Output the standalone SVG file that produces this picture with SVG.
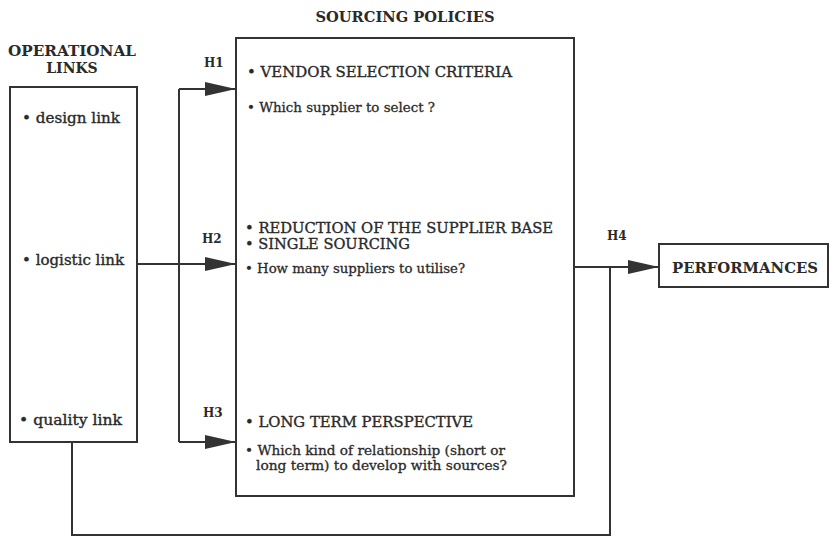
<svg xmlns="http://www.w3.org/2000/svg" width="834" height="538" viewBox="0 0 834 538">
<style>
.box{fill:#fff;stroke:#333;stroke-width:2}
.ln{fill:none;stroke:#333;stroke-width:2}
.hd{font-family:"DejaVu Serif","Liberation Serif",serif;font-weight:bold;font-size:14px;fill:#2a2a2a}
.tx{font-family:"DejaVu Serif","Liberation Serif",serif;font-size:14px;fill:#2a2a2a;stroke:#2a2a2a;stroke-width:0.35}
.sm{font-family:"DejaVu Serif","Liberation Serif",serif;font-size:13px;fill:#2a2a2a;stroke:#2a2a2a;stroke-width:0.3}
.hl{font-family:"DejaVu Serif","Liberation Serif",serif;font-weight:bold;font-size:12px;fill:#2a2a2a}
</style>
<defs>
<marker id="arr" markerUnits="userSpaceOnUse" markerWidth="31" markerHeight="14" refX="31" refY="7" orient="auto">
<path d="M0,0 L31,7 L0,14 z" fill="#333"/>
</marker>
</defs>
<rect width="834" height="538" fill="#fff"/>
<g id="operational-links">
<text class="hd" x="72" y="56" text-anchor="middle" textLength="128" lengthAdjust="spacingAndGlyphs">OPERATIONAL</text>
<text class="hd" x="72" y="73" text-anchor="middle">LINKS</text>
<rect class="box" x="10" y="87" width="127" height="355"/>
<text class="tx" x="22" y="123" textLength="98" lengthAdjust="spacingAndGlyphs">• design link</text>
<text class="tx" x="22" y="265" textLength="102" lengthAdjust="spacingAndGlyphs">• logistic link</text>
<text class="tx" x="19" y="425" textLength="103" lengthAdjust="spacingAndGlyphs">• quality link</text>
</g>
<g id="sourcing-policies">
<text class="hd" x="405" y="22" text-anchor="middle" textLength="179" lengthAdjust="spacingAndGlyphs">SOURCING POLICIES</text>
<rect class="box" x="236" y="38" width="338" height="458"/>
<text class="tx" x="247" y="77" textLength="265" lengthAdjust="spacingAndGlyphs">• VENDOR SELECTION CRITERIA</text>
<text class="sm" x="247" y="112" textLength="188" lengthAdjust="spacingAndGlyphs">• Which supplier to select ?</text>
<text class="tx" x="245" y="233" font-size="13" textLength="308" lengthAdjust="spacingAndGlyphs">• REDUCTION OF THE SUPPLIER BASE</text>
<text class="tx" x="245" y="249" font-size="13" textLength="165" lengthAdjust="spacingAndGlyphs">• SINGLE SOURCING</text>
<text class="sm" x="245" y="273" textLength="220" lengthAdjust="spacingAndGlyphs">• How many suppliers to utilise?</text>
<text class="tx" x="245" y="427" textLength="228" lengthAdjust="spacingAndGlyphs">• LONG TERM PERSPECTIVE</text>
<text class="sm" x="245" y="455" textLength="260" lengthAdjust="spacingAndGlyphs">• Which kind of relationship (short or</text>
<text class="sm" x="256" y="470" textLength="251" lengthAdjust="spacingAndGlyphs">long term) to develop with sources?</text>
</g>
<g id="performances">
<rect class="box" x="659" y="244" width="169" height="43"/>
<text class="hd" x="745" y="273" text-anchor="middle" font-size="15" textLength="146" lengthAdjust="spacingAndGlyphs">PERFORMANCES</text>
</g>
<g id="connectors">
<path class="ln" d="M179,442 V89"/>
<path class="ln" d="M179,89 H236" marker-end="url(#arr)"/>
<path class="ln" d="M137,264 H236" marker-end="url(#arr)"/>
<path class="ln" d="M179,442 H236" marker-end="url(#arr)"/>
<path class="ln" d="M574,267 H659" marker-end="url(#arr)"/>
<path class="ln" d="M72,442 V535 H610 V267"/>
<text class="hl" x="204" y="67">H1</text>
<text class="hl" x="202" y="243">H2</text>
<text class="hl" x="203" y="417">H3</text>
<text class="hl" x="607" y="240">H4</text>
</g>
</svg>
